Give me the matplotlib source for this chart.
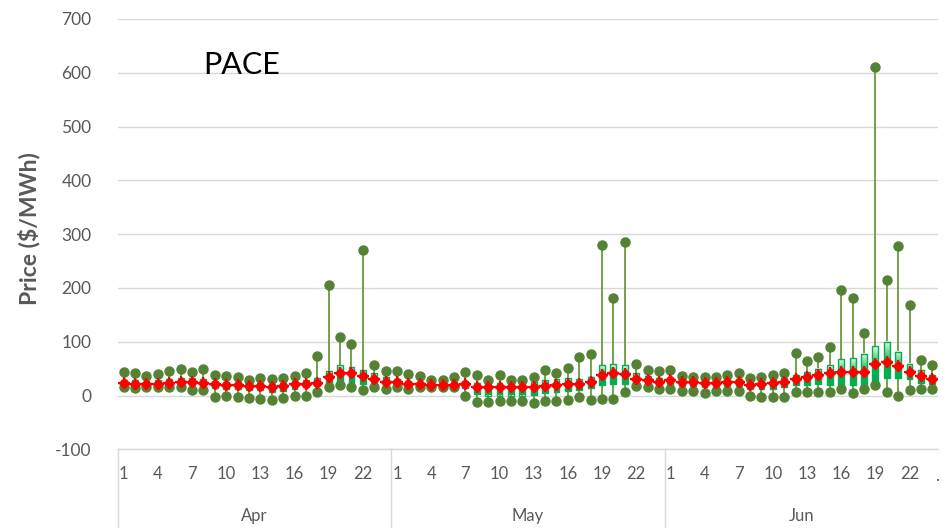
import numpy as np
import matplotlib
matplotlib.use("Agg")
import matplotlib.pyplot as plt
from matplotlib.colors import LinearSegmentedColormap
from matplotlib.patches import Rectangle
import matplotlib.transforms as mtransforms

# Data: hourly price distribution per month ($/MWh)
months = ["Apr", "May", "Jun"]
hours = list(range(1, 25))

apr_max = [44, 42, 37, 40, 46, 49, 43, 50, 39, 37, 34, 29, 32, 30, 32, 37, 42, 74, 205, 108, 95, 270, 57, 46]
apr_q3 = [29, 28, 27, 28, 31, 32, 32, 31, 27, 26, 25, 23, 23, 22, 24, 27, 28, 32, 46, 56, 53, 47, 41, 35]
apr_avg = [23, 22, 21, 22, 24, 26, 26, 24, 21, 20, 20, 18, 18, 15, 18, 21, 22, 24, 35, 41, 41, 37, 30, 25]
apr_q1 = [18, 17, 17, 17, 19, 20, 19, 18, 14, 13, 12, 10, 10, 6, 9, 13, 15, 18, 22, 25, 24, 22, 20, 19]
apr_min = [15, 14, 15, 15, 16, 16, 11, 11, -2, 0, -3, -5, -6, -8, -4, 0, 0, 6, 15, 20, 15, 11, 15, 13]

may_max = [45, 40, 37, 29, 28, 34, 43, 38, 29, 38, 28, 29, 35, 47, 41, 51, 71, 77, 279, 181, 285, 58, 48, 46]
may_q3 = [30, 27, 26, 24, 24, 25, 27, 23, 23, 23, 23, 24, 25, 28, 30, 32, 30, 35, 56, 58, 56, 41, 36, 32]
may_avg = [25, 22, 22, 20, 20, 20, 22, 15, 15, 15, 15, 15, 16, 18, 20, 22, 22, 25, 38, 42, 40, 31, 28, 25]
may_q1 = [19, 17, 17, 17, 17, 17, 14, 2, 0, 0, 0, 0, 1, 4, 6, 8, 10, 14, 20, 22, 22, 22, 19, 17]
may_min = [15, 12, 15, 15, 15, 15, -1, -12, -13, -11, -11, -11, -14, -11, -11, -8, -3, -8, -6, -6, 6, 17, 15, 12]

jun_max = [48, 37, 35, 35, 35, 39, 42, 32, 34, 39, 42, 79, 64, 71, 90, 197, 182, 116, 611, 215, 278, 168, 66, 57]
jun_q3 = [33, 31, 30, 29, 29, 30, 31, 27, 28, 30, 33, 39, 44, 50, 57, 68, 69, 78, 92, 99, 81, 58, 48, 39]
jun_avg = [28, 26, 25, 24, 24, 25, 25, 20, 21, 23, 25, 30, 35, 38, 42, 44, 43, 44, 58, 62, 55, 43, 37, 30]
jun_q1 = [20, 18, 17, 16, 16, 17, 17, 12, 12, 13, 15, 19, 20, 21, 20, 20, 20, 20, 24, 32, 32, 30, 24, 21]
jun_min = [12, 8, 8, 4, 9, 9, 9, 0, -2, -2, -2, 7, 7, 7, 6, 12, 4, 13, 20, 6, 0, 11, 12, 12]

tick_hours = [1, 4, 7, 10, 13, 16, 19, 22]

# Combine
p_max = np.array(apr_max + may_max + jun_max)
p_q3 = np.array(apr_q3 + may_q3 + jun_q3)
p_avg = np.array(apr_avg + may_avg + jun_avg)
p_q1 = np.array(apr_q1 + may_q1 + jun_q1)
p_min = np.array(apr_min + may_min + jun_min)
n_h = len(hours)
x = np.arange(len(p_max))

GRAY = "#595959"
GRID = "#D9D9D9"
DOT = "#548235"
WHISK = "#6A9A3F"
BOX = "#00B050"

plt.rcParams["font.family"] = ["Lato", "DejaVu Sans"]
plt.rcParams["axes.unicode_minus"] = False

fig = plt.figure(figsize=(9.48, 5.28), dpi=100)
ax = fig.add_axes([118 / 948, 78.7 / 528, 820 / 948, 430.4 / 528])

# whiskers
ax.vlines(x, p_min, p_max, color=WHISK, lw=1.3, zorder=2)

# gradient boxes (light top, green bottom)
cmap = LinearSegmentedColormap.from_list("g", ["#E4F7EA", "#5FD08E", BOX, BOX])
grad = np.linspace(0, 1, 50).reshape(-1, 1)
w = 0.52
for xi, lo, hi in zip(x, p_q1, p_q3):
    ax.imshow(grad, extent=[xi - w / 2, xi + w / 2, lo, hi], aspect="auto",
              cmap=cmap, zorder=3, interpolation="bilinear")
    ax.add_patch(Rectangle((xi - w / 2, lo), w, hi - lo, fill=False,
                           edgecolor=BOX, lw=1.0, zorder=4))

# min / max dots
ax.plot(x, p_max, "o", color=DOT, ms=6.5, zorder=5)
ax.plot(x, p_min, "o", color=DOT, ms=6.5, zorder=5)

# average markers
ax.plot(x, p_avg, "+", color="#FF0000", ms=8, mew=1.6, zorder=6)
ax.plot(x, p_avg, "D", color="#FF0000", ms=5, zorder=6)

ax.set_xlim(-0.5, len(x) - 0.5)
ax.set_ylim(-100, 700)
ax.set_yticks(np.arange(-100, 701, 100))
ax.grid(axis="y", color=GRID, lw=1)
ax.set_axisbelow(True)
for s in ["top", "right", "left"]:
    ax.spines[s].set_visible(False)
ax.spines["bottom"].set_color(GRID)
ax.spines["bottom"].set_linewidth(1)
ax.tick_params(axis="y", length=0, pad=19, labelsize=12.5, labelcolor=GRAY)

# category axis: hours + months
tpos = []
tlab = []
for m in range(len(months)):
    for h in tick_hours:
        tpos.append(m * n_h + h - 1)
        tlab.append(str(h))
ax.set_xticks(tpos)
ax.set_xticklabels(tlab)
ax.tick_params(axis="x", length=0, pad=12, labelsize=12, labelcolor=GRAY)

trans = mtransforms.blended_transform_factory(ax.transData, ax.transAxes)
ax.text(len(x) - 0.6, -0.063, ".", transform=trans, ha="center", va="center",
        fontsize=12, color=GRAY)
for m, name in enumerate(months):
    ax.text(m * n_h + (n_h - 1) / 2, -0.155, name, transform=trans,
            ha="center", va="center", fontsize=12, color=GRAY)
    ax.plot([m * n_h - 0.5, m * n_h - 0.5], [0, -0.2], transform=trans,
            color=GRID, lw=1, clip_on=False)

ax.set_ylabel("Price ($/MWh)", fontsize=16.5, fontweight="bold", color=GRAY)
ax.yaxis.set_label_coords(-0.095, 0.514)

ax.text(7.0, 614, "PACE", fontsize=22, color="black", ha="left", va="center")

fig.savefig("out.png", dpi=100)
